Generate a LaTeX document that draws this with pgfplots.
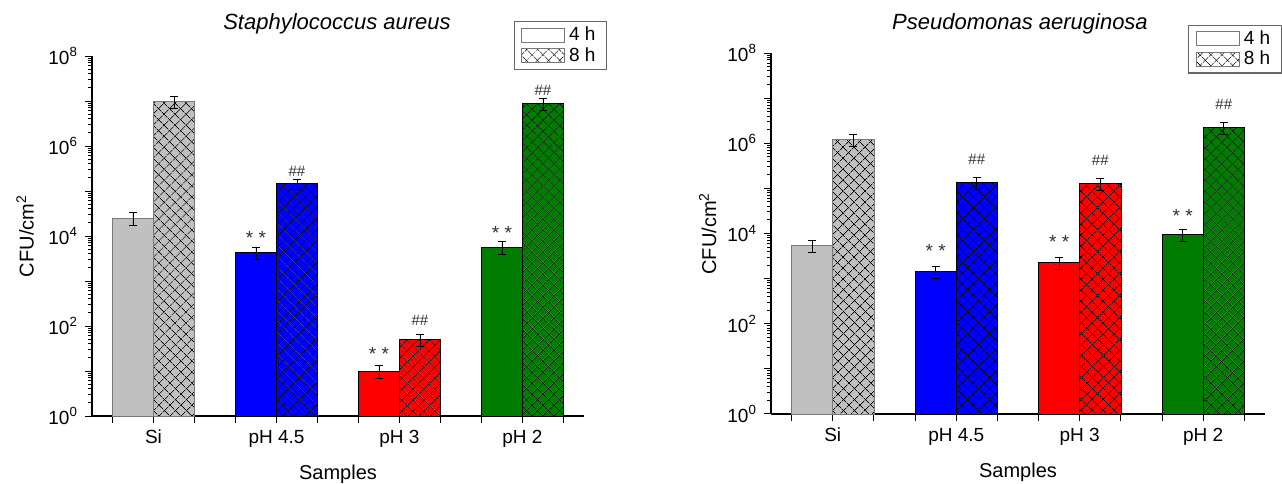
\documentclass[border=0pt]{standalone}
\usepackage{pgfplots}
\pgfplotsset{compat=1.18}
\usepackage{fontspec}
\setmainfont{Liberation Sans}
\usetikzlibrary{patterns.meta}
\definecolor{cgray}{RGB}{192,192,192}
\definecolor{cgrayd}{RGB}{120,120,120}
\definecolor{cblue}{RGB}{0,0,255}
\definecolor{cred}{RGB}{255,0,0}
\definecolor{cgreen}{RGB}{0,125,0}
\definecolor{ctxt}{RGB}{50,50,50}
\tikzset{xhatch/.style={
  postaction={pattern={Lines[angle=45,distance=4pt,line width=0.35pt]},pattern color=black},
  postaction={pattern={Lines[angle=-45,distance=4pt,line width=0.35pt]},pattern color=black}}}
\pgfplotsset{
  every axis/.append style={
    scale only axis,
    xmin=-0.5, xmax=3.5, ymin=1, ymax=1e8,
    axis x line*=bottom, axis y line*=left,
    axis line style={line width=0.6pt},
    xtick={0,1,2,3}, xticklabels={Si,pH 4.5,pH 3,pH 2},
    extra x ticks={-0.3333,0.3333,0.6667,1.3333,1.6667,2.3333,2.6667,3.3333},
    extra x tick labels={},
    ytick={1,10,100,1e3,1e4,1e5,1e6,1e7,1e8},
    yticklabels={10\textsuperscript{0},,10\textsuperscript{2},,10\textsuperscript{4},,10\textsuperscript{6},,10\textsuperscript{8}},
    minor ytick={2,3,4,5,6,7,8,9,20,30,40,50,60,70,80,90,200,300,400,500,600,700,800,900,
      2e3,3e3,4e3,5e3,6e3,7e3,8e3,9e3,2e4,3e4,4e4,5e4,6e4,7e4,8e4,9e4,
      2e5,3e5,4e5,5e5,6e5,7e5,8e5,9e5,2e6,3e6,4e6,5e6,6e6,7e6,8e6,9e6,
      2e7,3e7,4e7,5e7,6e7,7e7,8e7,9e7},
    tick align=outside, major tick length=3.5pt, minor tick length=1.8pt,
    tick style={black, line width=0.5pt},
    xlabel=Samples, ylabel={CFU/cm\textsuperscript{2}},
    xlabel style={at={(axis description cs:0.5,0)}, anchor=center, yshift=-29pt, font=\fontsize{10}{12}\selectfont},
    tick label style={font=\fontsize{9.5}{11}\selectfont},
    title style={font=\itshape\fontsize{11}{13}\selectfont, anchor=base},
    legend style={draw=black!60, line width=0.6pt, font=\fontsize{9.5}{11}\selectfont,
      inner xsep=3.5pt, inner ysep=1.5pt, row sep=0pt, cells={anchor=west},
      nodes={inner ysep=1pt, inner xsep=2pt}},
    clip=false,
  },
  legend image code/.code={\draw[#1] (0pt,-3.5pt) rectangle (21.5pt,3.5pt);},
}
\begin{document}
\begin{tikzpicture}
\useasboundingbox (0,0) rectangle (641pt,241.5pt);
% ---------------- left ----------------
\begin{semilogyaxis}[at={(46pt,33.5pt)}, anchor=south west, width=246pt, height=180pt,
  title={Staphylococcus aureus}, title style={at={(axis description cs:0.498,1)}, yshift=7pt},
  ylabel style={at={(axis description cs:-0.136,0.5)}, anchor=center, font=\fontsize{10}{12}\selectfont},
  legend style={at={(axis description cs:1.047,1.097)}, anchor=north east}]
\addlegendimage{fill=white, draw=cgrayd, line width=0.5pt}
\addlegendentry{4 h}
\addlegendimage{fill=white, draw=cgrayd, line width=0.5pt, xhatch}
\addlegendentry{8 h}
\addplot[ybar, bar width=0.3333, bar shift=0pt, forget plot, fill=cgray, draw=cgrayd, error bars/.cd, y dir=both, y explicit, error bar style={black}, error mark options={rotate=90,mark size=2pt,black}] coordinates {(-0.1667,2.5e4) +- (0,8e3)};
\addplot[ybar, bar width=0.3333, bar shift=0pt, forget plot, fill=cgray, draw=cgrayd, xhatch, error bars/.cd, y dir=both, y explicit, error bar style={black}, error mark options={rotate=90,mark size=2pt,black}] coordinates {(0.1667,9.7e6) +- (0,2.8e6)};
\addplot[ybar, bar width=0.3333, bar shift=0pt, forget plot, fill=cblue, draw=black, error bars/.cd, y dir=both, y explicit, error bar style={black}, error mark options={rotate=90,mark size=2pt,black}] coordinates {(0.8333,4.3e3) +- (0,1.3e3)};
\addplot[ybar, bar width=0.3333, bar shift=0pt, forget plot, fill=cblue, draw=black, xhatch, error bars/.cd, y dir=both, y explicit, error bar style={black}, error mark options={rotate=90,mark size=2pt,black}] coordinates {(1.1667,1.45e5) +- (0,3.8e4)};
\addplot[ybar, bar width=0.3333, bar shift=0pt, forget plot, fill=cred, draw=black, error bars/.cd, y dir=both, y explicit, error bar style={black}, error mark options={rotate=90,mark size=2pt,black}] coordinates {(1.8333,10) +- (0,3)};
\addplot[ybar, bar width=0.3333, bar shift=0pt, forget plot, fill=cred, draw=black, xhatch, error bars/.cd, y dir=both, y explicit, error bar style={black}, error mark options={rotate=90,mark size=2pt,black}] coordinates {(2.1667,50) +- (0,15)};
\addplot[ybar, bar width=0.3333, bar shift=0pt, forget plot, fill=cgreen, draw=black, error bars/.cd, y dir=both, y explicit, error bar style={black}, error mark options={rotate=90,mark size=2pt,black}] coordinates {(2.8333,5.7e3) +- (0,1.7e3)};
\addplot[ybar, bar width=0.3333, bar shift=0pt, forget plot, fill=cgreen, draw=black, xhatch, error bars/.cd, y dir=both, y explicit, error bar style={black}, error mark options={rotate=90,mark size=2pt,black}] coordinates {(3.1667,8.9e6) +- (0,2.6e6)};
\node[font=\fontsize{9.5}{10}\selectfont, text=ctxt] at (axis cs:0.8333,9e3) {* *};
\node[font=\fontsize{9.5}{10}\selectfont, text=ctxt] at (axis cs:1.8333,24) {* *};
\node[font=\fontsize{9.5}{10}\selectfont, text=ctxt] at (axis cs:2.8333,1.15e4) {* *};
\node[font=\fontsize{7.5}{8}\selectfont, text=ctxt] at (axis cs:1.1667,2.8e5) {\#\#};
\node[font=\fontsize{7.5}{8}\selectfont, text=ctxt] at (axis cs:2.1667,135) {\#\#};
\node[font=\fontsize{7.5}{8}\selectfont, text=ctxt] at (axis cs:3.1667,1.74e7) {\#\#};
\end{semilogyaxis}
% ---------------- right ----------------
\begin{semilogyaxis}[at={(385.5pt,34.5pt)}, anchor=south west, width=247pt, height=180.5pt,
  title={Pseudomonas aeruginosa}, title style={at={(axis description cs:0.504,1)}, yshift=5.5pt},
  ylabel style={at={(axis description cs:-0.128,0.5)}, anchor=center, font=\fontsize{10}{12}\selectfont},
  legend style={at={(axis description cs:1.034,1.078)}, anchor=north east}]
\addlegendimage{fill=white, draw=cgrayd, line width=0.5pt}
\addlegendentry{4 h}
\addlegendimage{fill=white, draw=cgrayd, line width=0.5pt, xhatch}
\addlegendentry{8 h}
\addplot[ybar, bar width=0.3333, bar shift=0pt, forget plot, fill=cgray, draw=cgrayd, error bars/.cd, y dir=both, y explicit, error bar style={black}, error mark options={rotate=90,mark size=2pt,black}] coordinates {(-0.1667,5.5e3) +- (0,1.7e3)};
\addplot[ybar, bar width=0.3333, bar shift=0pt, forget plot, fill=cgray, draw=cgrayd, xhatch, error bars/.cd, y dir=both, y explicit, error bar style={black}, error mark options={rotate=90,mark size=2pt,black}] coordinates {(0.1667,1.2e6) +- (0,3.5e5)};
\addplot[ybar, bar width=0.3333, bar shift=0pt, forget plot, fill=cblue, draw=black, error bars/.cd, y dir=both, y explicit, error bar style={black}, error mark options={rotate=90,mark size=2pt,black}] coordinates {(0.8333,1.45e3) +- (0,4.5e2)};
\addplot[ybar, bar width=0.3333, bar shift=0pt, forget plot, fill=cblue, draw=black, xhatch, error bars/.cd, y dir=both, y explicit, error bar style={black}, error mark options={rotate=90,mark size=2pt,black}] coordinates {(1.1667,1.36e5) +- (0,4e4)};
\addplot[ybar, bar width=0.3333, bar shift=0pt, forget plot, fill=cred, draw=black, error bars/.cd, y dir=both, y explicit, error bar style={black}, error mark options={rotate=90,mark size=2pt,black}] coordinates {(1.8333,2.3e3) +- (0,7e2)};
\addplot[ybar, bar width=0.3333, bar shift=0pt, forget plot, fill=cred, draw=black, xhatch, error bars/.cd, y dir=both, y explicit, error bar style={black}, error mark options={rotate=90,mark size=2pt,black}] coordinates {(2.1667,1.3e5) +- (0,3.8e4)};
\addplot[ybar, bar width=0.3333, bar shift=0pt, forget plot, fill=cgreen, draw=black, error bars/.cd, y dir=both, y explicit, error bar style={black}, error mark options={rotate=90,mark size=2pt,black}] coordinates {(2.8333,9.6e3) +- (0,3e3)};
\addplot[ybar, bar width=0.3333, bar shift=0pt, forget plot, fill=cgreen, draw=black, xhatch, error bars/.cd, y dir=both, y explicit, error bar style={black}, error mark options={rotate=90,mark size=2pt,black}] coordinates {(3.1667,2.2e6) +- (0,6.5e5)};
\node[font=\fontsize{9.5}{10}\selectfont, text=ctxt] at (axis cs:0.8333,4.1e3) {* *};
\node[font=\fontsize{9.5}{10}\selectfont, text=ctxt] at (axis cs:1.8333,6.4e3) {* *};
\node[font=\fontsize{9.5}{10}\selectfont, text=ctxt] at (axis cs:2.8333,2.5e4) {* *};
\node[font=\fontsize{7.5}{8}\selectfont, text=ctxt] at (axis cs:1.1667,4.4e5) {\#\#};
\node[font=\fontsize{7.5}{8}\selectfont, text=ctxt] at (axis cs:2.1667,4.1e5) {\#\#};
\node[font=\fontsize{7.5}{8}\selectfont, text=ctxt] at (axis cs:3.1667,7.1e6) {\#\#};
\end{semilogyaxis}
\end{tikzpicture}
\end{document}
